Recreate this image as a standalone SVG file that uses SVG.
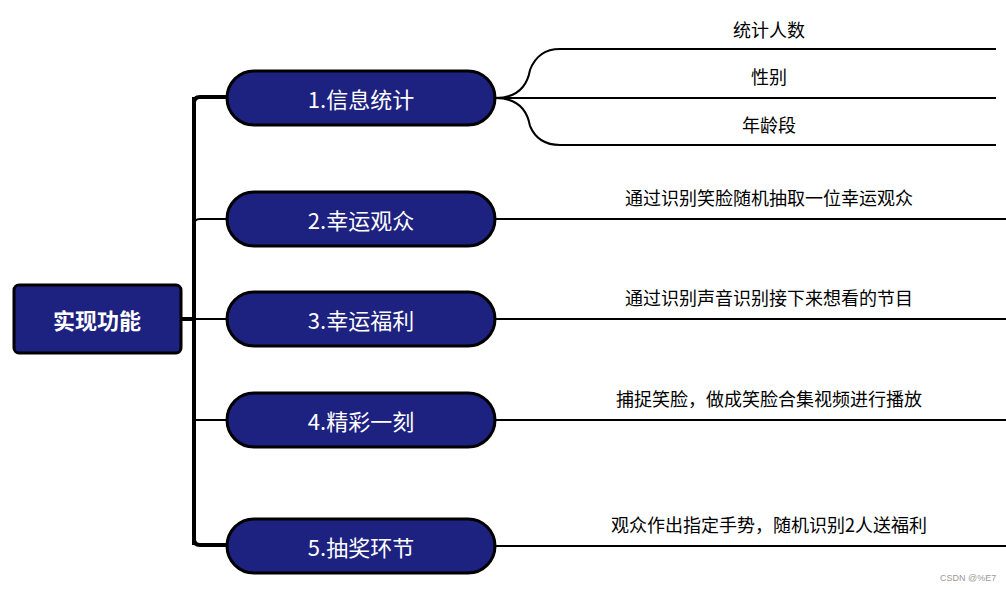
<svg xmlns="http://www.w3.org/2000/svg" width="1006" height="590" viewBox="0 0 1006 590">
<style>
.n{fill:#1d2180;stroke:#000;stroke-width:3}
.t{font-family:"Noto Sans CJK SC",sans-serif;fill:#fff;font-size:22px;text-anchor:middle;dominant-baseline:central}
.l{font-family:"Noto Sans CJK SC",sans-serif;fill:#000;font-size:18px;text-anchor:middle}
.c{fill:none;stroke:#000;stroke-width:2}
.s{fill:none;stroke:#000;stroke-width:4}
</style>
<rect width="1006" height="590" fill="#fff"/>
<g id="connectors">
<path class="s" d="M181 319H192M194 97V545M227 97H200Q194 97 194 103M194 539Q194 545 200 545H227"/>
<path class="c" d="M194 225Q194 219 200 219H227M194 420H227M194 319H227"/>
<path class="c" d="M495 98Q525 98 530 70Q538 49 560 49H996M495 98H996M495 98Q525 98 530 126Q538 145 560 145H996"/>
<path class="c" d="M495 219H1006M495 319H1006M495 420H1006M495 546H1006"/>
</g>
<g id="root"><rect class="n" x="14" y="285" width="167" height="68" rx="5"/><text class="t" x="97" y="319" font-weight="bold" font-size="26">实现功能</text></g>
<g id="n1"><rect class="n" x="227" y="71" width="268" height="54" rx="27"/><text class="t" x="361" y="98">1.信息统计</text></g>
<g id="n2"><rect class="n" x="227" y="192" width="268" height="54" rx="27"/><text class="t" x="361" y="219">2.幸运观众</text></g>
<g id="n3"><rect class="n" x="227" y="292" width="268" height="54" rx="27"/><text class="t" x="361" y="319">3.幸运福利</text></g>
<g id="n4"><rect class="n" x="227" y="393" width="268" height="54" rx="27"/><text class="t" x="361" y="420">4.精彩一刻</text></g>
<g id="n5"><rect class="n" x="227" y="519" width="268" height="54" rx="27"/><text class="t" x="361" y="546">5.抽奖环节</text></g>
<g id="leaves">
<text class="l" x="769" y="37">统计人数</text>
<text class="l" x="769" y="84">性别</text>
<text class="l" x="769" y="132">年龄段</text>
<text class="l" x="769" y="205">通过识别笑脸随机抽取一位幸运观众</text>
<text class="l" x="769" y="305">通过识别声音识别接下来想看的节目</text>
<text class="l" x="769" y="406">捕捉笑脸，做成笑脸合集视频进行播放</text>
<text class="l" x="769" y="532">观众作出指定手势，随机识别2人送福利</text>
</g>
<text x="940" y="581" font-family="Liberation Sans,sans-serif" font-size="9" fill="#999">CSDN @%E7</text>
</svg>
